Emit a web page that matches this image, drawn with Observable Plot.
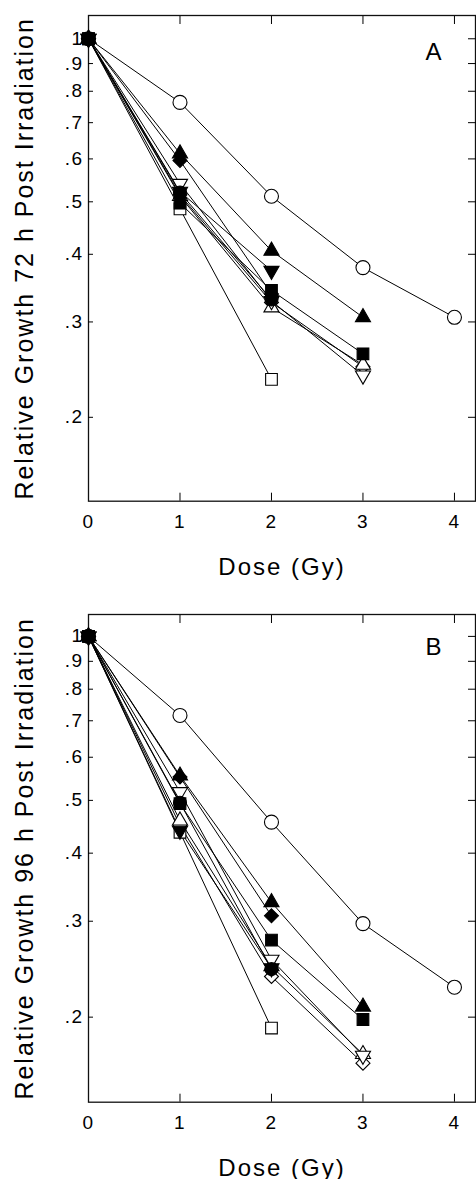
<!DOCTYPE html>
<html>
<head>
<meta charset="utf-8">
<script src="https://cdn.jsdelivr.net/npm/d3@7"></script>
<script src="https://cdn.jsdelivr.net/npm/@observablehq/plot@0.6"></script>
<style>
  body { margin: 0; background: #fff; }
  #chart svg { display: block; }
</style>
</head>
<body>
<div id="chart"></div>
<script>
// ---------- data ----------
const doses = [0, 1, 2, 3, 4];
const xTickValues = [0, 1, 2, 3, 4];
const xInnerTicks = [1, 2, 3, 4];
const yTickValues = [1, 0.9, 0.8, 0.7, 0.6, 0.5, 0.4, 0.3, 0.2];
const xTitle = "Dose (Gy)";
const yTitleA = "Relative Growth 72 h Post Irradiation";
const yTitleB = "Relative Growth 96 h Post Irradiation";
const seriesKeys = ["circleOpen", "squareOpen", "diamondOpen", "triUpOpen", "triDownOpen",
                    "triDownFilled", "circleFilled", "triUpFilled", "diamondFilled", "squareFilled"];

// Panel A (72 h): values by dose index
const aCircleOpen    = [1, 0.763, 0.512, 0.378, 0.306];
const aSquareOpen    = [1, 0.485, 0.235];
const aDiamondOpen   = [1, 0.515, 0.326, 0.248];
const aTriUpOpen     = [1, 0.512, 0.319, 0.250];
const aTriDownOpen   = [1, 0.540, 0.328, 0.239];
const aTriDownFilled = [1, 0.522, 0.373];
const aCircleFilled  = [1, 0.520, 0.330];
const aTriUpFilled   = [1, 0.614, 0.406, 0.306];
const aDiamondFilled = [1, 0.596, 0.338];
const aSquareFilled  = [1, 0.497, 0.343, 0.262];

// Panel B (96 h)
const bCircleOpen    = [1, 0.716, 0.456, 0.297, 0.227];
const bSquareOpen    = [1, 0.437, 0.191];
const bDiamondOpen   = [1, 0.450, 0.2375, 0.1646];
const bTriUpOpen     = [1, 0.459, 0.248, 0.171];
const bTriDownOpen   = [1, 0.518, 0.255, 0.170];
const bTriDownFilled = [1, 0.440, 0.246];
const bCircleFilled  = [1, 0.495, 0.245];
const bTriUpFilled   = [1, 0.555, 0.325, 0.209];
const bDiamondFilled = [1, 0.552, 0.307];
const bSquareFilled  = [1, 0.493, 0.277, 0.198];

// ---------- styles ----------
const triangleDown = {
  draw(context, size) {
    const y = -Math.sqrt(size / (Math.sqrt(3) * 3));
    context.moveTo(0, -y * 2);
    context.lineTo(-Math.sqrt(3) * y, y);
    context.lineTo(Math.sqrt(3) * y, y);
    context.closePath();
  }
};
const symbolStyle = {
  circleOpen:    {symbol: "circle",   fill: "white", r: 7},
  squareOpen:    {symbol: "square",   fill: "white", r: 6.6},
  diamondOpen:   {symbol: "diamond2", fill: "white", r: 6.3},
  triUpOpen:     {symbol: "triangle", fill: "white", r: 5.6},
  triDownOpen:   {symbol: triangleDown, fill: "white", r: 5.6},
  triDownFilled: {symbol: triangleDown, fill: "black", r: 5.6},
  circleFilled:  {symbol: "circle",   fill: "black", r: 6.5},
  triUpFilled:   {symbol: "triangle", fill: "black", r: 5.6},
  diamondFilled: {symbol: "diamond2", fill: "black", r: 6.3},
  squareFilled:  {symbol: "square",   fill: "black", r: 6.6}
};

function rowsFrom(arrays) {
  const rows = [];
  seriesKeys.forEach((key, k) => {
    arrays[k].forEach((v, i) => rows.push({series: key, dose: doses[i], value: v}));
  });
  return rows;
}
const rowsA = rowsFrom([aCircleOpen, aSquareOpen, aDiamondOpen, aTriUpOpen, aTriDownOpen,
                        aTriDownFilled, aCircleFilled, aTriUpFilled, aDiamondFilled, aSquareFilled]);
const rowsB = rowsFrom([bCircleOpen, bSquareOpen, bDiamondOpen, bTriUpOpen, bTriDownOpen,
                        bTriDownFilled, bCircleFilled, bTriUpFilled, bDiamondFilled, bSquareFilled]);

const fmtY = d => d === 1 ? "1" : String(d).replace(/^0\./, ".");
const tickStrings = new Set([...yTickValues.map(fmtY), ...xTickValues.map(String)]);

function panel({rows, letter, yTitle, height, marginTop, marginBottom, yDomain, letterDy}) {
  const dots = seriesKeys.map(key => {
    const s = symbolStyle[key];
    return Plot.dot(rows.filter(d => d.series === key), {
      x: "dose", y: "value", symbol: s.symbol, r: s.r,
      fill: s.fill, stroke: "black", strokeWidth: 1.1
    });
  });
  const svg = Plot.plot({
    width: 476,
    height,
    marginLeft: 88,
    marginRight: 1,
    marginTop,
    marginBottom,
    style: {fontFamily: "'Liberation Sans', Arial, sans-serif", fontSize: "18px", background: "white", overflow: "visible"},
    x: {domain: [0, 4.23], axis: null},
    y: {type: "log", domain: yDomain, axis: null},
    marks: [
      Plot.frame({stroke: "#111", strokeWidth: 1.3}),
      Plot.axisY(yTickValues, {anchor: "left", tickSize: 0, tickPadding: 5, tickFormat: fmtY, fontSize: 19, label: null}),
      Plot.axisY(yTickValues, {anchor: "left", tickSize: -5, tickFormat: () => "", label: null}),
      Plot.axisY(yTickValues, {anchor: "right", tickSize: -8, tickFormat: () => "", label: null}),
      Plot.axisX(xTickValues, {anchor: "bottom", tickSize: 0, tickPadding: 13, fontSize: 19, label: null}),
      Plot.axisX(xInnerTicks, {anchor: "bottom", tickSize: -8, tickFormat: () => "", label: null}),
      Plot.axisX(xInnerTicks, {anchor: "top", tickSize: -8, tickFormat: () => "", label: null}),
      Plot.line(rows, {x: "dose", y: "value", z: "series", stroke: "black", strokeWidth: 1}),
      ...dots,
      Plot.text([yTitle], {text: d => d, frameAnchor: "left", textAnchor: "middle", lineAnchor: "middle", dx: -64, rotate: -90, fontSize: 25}),
      Plot.text([xTitle], {text: d => d, frameAnchor: "bottom", textAnchor: "middle", lineAnchor: "middle", dy: 66, fontSize: 24}),
      Plot.text([letter], {text: d => d, frameAnchor: "top-right", textAnchor: "middle", lineAnchor: "middle", dx: -42, dy: letterDy, fontSize: 24})
    ]
  });
  const s = d3.select(svg);
  s.selectAll("text").filter(function () { return tickStrings.has(this.textContent); })
    .style("font-size", "19px").style("letter-spacing", "1.5px");
  s.selectAll("text").filter(function () {
    return this.textContent === xTitle || this.textContent === yTitle;
  }).style("letter-spacing", "2px");
  return svg;
}

const chart = document.getElementById("chart");
chart.appendChild(panel({rows: rowsA, letter: "A", yTitle: yTitleA, height: 590, marginTop: 15, marginBottom: 89.3, yDomain: [0.14, 1.104], letterDy: 37}));
chart.appendChild(panel({rows: rowsB, letter: "B", yTitle: yTitleB, height: 589, marginTop: 24, marginBottom: 77.3, yDomain: [0.1396, 1.097], letterDy: 33}));
</script>
</body>
</html>
